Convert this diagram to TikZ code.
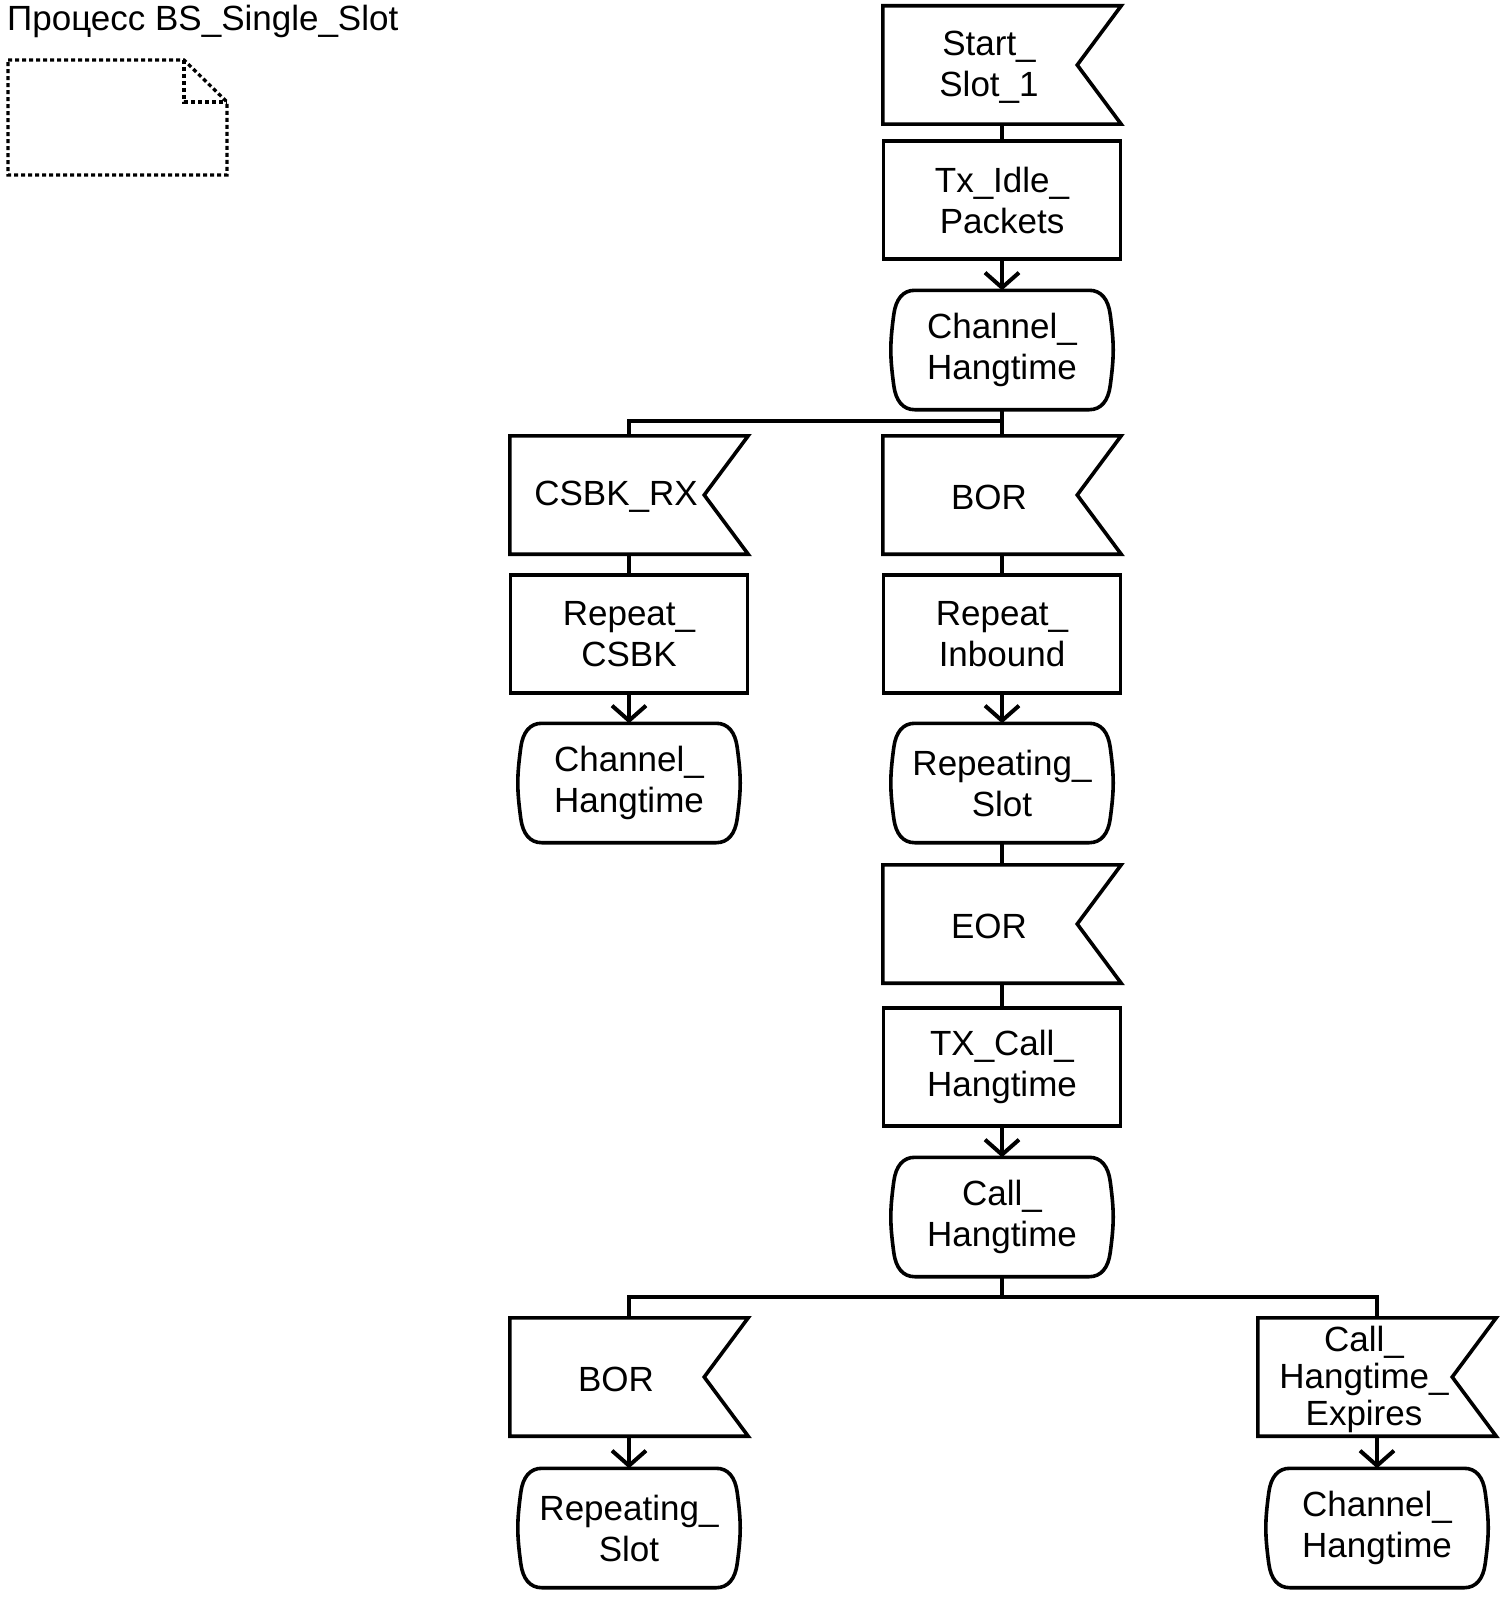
\documentclass[tikz,border=0pt]{standalone}
\usepackage{fontspec}
\setmainfont{Liberation Sans}
\usetikzlibrary{arrows.meta,calc}
\newcommand\drawflag[1]{\draw[lw, line join=miter] (#1.north west) -- (#1.north east) -- ([xshift=-44pt]#1.east) -- (#1.south east) -- (#1.south west) -- cycle;}
\newcommand\drawstate[1]{\draw[lw]
 ([xshift=24pt]#1.north west) -- ([xshift=-24pt]#1.north east)
 .. controls ([xshift=-12pt]#1.north east) and ([xshift=-5pt,yshift=-9pt]#1.north east) .. ([xshift=-3pt,yshift=-24pt]#1.north east)
 .. controls ([xshift=1pt,yshift=-54pt]#1.north east) and ([xshift=1pt,yshift=54pt]#1.south east) .. ([xshift=-3pt,yshift=24pt]#1.south east)
 .. controls ([xshift=-5pt,yshift=9pt]#1.south east) and ([xshift=-12pt]#1.south east) .. ([xshift=-24pt]#1.south east)
 -- ([xshift=24pt]#1.south west)
 .. controls ([xshift=12pt]#1.south west) and ([xshift=5pt,yshift=9pt]#1.south west) .. ([xshift=3pt,yshift=24pt]#1.south west)
 .. controls ([xshift=-1pt,yshift=54pt]#1.south west) and ([xshift=-1pt,yshift=-54pt]#1.north west) .. ([xshift=3pt,yshift=-24pt]#1.north west)
 .. controls ([xshift=5pt,yshift=-9pt]#1.north west) and ([xshift=12pt]#1.north west) .. ([xshift=24pt]#1.north west) -- cycle;}
\begin{document}
\begin{tikzpicture}[x=1pt,y=-1pt,
  every node/.style={font=\fontsize{35}{41}\selectfont},
  lw/.style={line width=3.6pt},
  flagbox/.style={minimum width=238pt, minimum height=118pt, inner sep=0pt},
  flagtxt/.style={align=center, xshift=-13pt, yshift=-2pt},
  taskbox/.style={draw, lw, minimum width=237pt, minimum height=118pt, inner sep=0pt, align=center},
  statebox/.style={minimum width=222pt, minimum height=119pt, inner sep=0pt, align=center},
  conn/.style={lw},
  arr/.style={lw, -{Straight Barb[length=15pt,width=34pt,line width=4pt]}},
  notebox/.style={line width=3.3pt, dash pattern=on 4pt off 3pt}
]
\useasboundingbox (0,0) rectangle (1506,1597);

% title and note
\node[anchor=base west, inner sep=0pt] (title) at (7,30.5) {Процесс BS\_Single\_Slot};
\draw[notebox] (8,60) -- (184,60) -- (227,102) -- (227,175) -- (8,175) -- cycle;
\draw[notebox] (184,60) -- (184,102) -- (227,102);

% nodes
\node[flagbox, label={[flagtxt]center:{Start\_\\Slot\_1}}] (f1) at (1002,65) {};
\node[taskbox] (b1) at (1002,200) {Tx\_Idle\_\\Packets};
\node[statebox] (s1) at (1002,350) {Channel\_\\Hangtime};
\node[flagbox, label={[flagtxt]center:{CSBK\_RX}}] (f2) at (629,495) {};
\node[flagbox, label={[flagtxt]center:{BOR}}] (f3) at (1002,495) {};
\node[taskbox] (b2) at (629,634) {Repeat\_\\CSBK};
\node[taskbox] (b3) at (1002,634) {Repeat\_\\Inbound};
\node[statebox] (s2) at (629,783) {Channel\_\\Hangtime};
\node[statebox] (s3) at (1002,783) {Repeating\_\\Slot};
\node[flagbox, label={[flagtxt]center:{EOR}}] (f4) at (1002,924) {};
\node[taskbox] (b4) at (1002,1067) {TX\_Call\_\\Hangtime};
\node[statebox] (s4) at (1002,1217) {Call\_\\Hangtime};
\node[flagbox, label={[flagtxt]center:{BOR}}] (f5) at (629,1377) {};
\node[flagbox, label={[flagtxt, font=\fontsize{35}{37}\selectfont]center:{Call\_\\Hangtime\_\\Expires}}] (f6) at (1377,1377) {};
\node[statebox] (s5) at (629,1528) {Repeating\_\\Slot};
\node[statebox] (s6) at (1377,1528) {Channel\_\\Hangtime};

\foreach \n in {f1,f2,f3,f4,f5,f6} {\drawflag{\n}}
\foreach \n in {s1,s2,s3,s4,s5,s6} {\drawstate{\n}}

\coordinate (j1) at (1002,421);
\coordinate (j2) at (1002,1297);

% connectors
\draw[conn] (f1.south) -- (b1.north);
\draw[arr] (b1.south) -- (s1.north);
\draw[conn] (s1.south) -- (f3.north);
\draw[conn] (j1) -| (f2.north);
\draw[conn] (f2.south) -- (b2.north);
\draw[conn] (f3.south) -- (b3.north);
\draw[arr] (b2.south) -- (s2.north);
\draw[arr] (b3.south) -- (s3.north);
\draw[conn] (s3.south) -- (f4.north);
\draw[conn] (f4.south) -- (b4.north);
\draw[arr] (b4.south) -- (s4.north);
\draw[conn] (s4.south) -- (j2);
\draw[conn] (f5.north) |- (j2) -| (f6.north);
\draw[arr] (f5.south) -- (s5.north);
\draw[arr] (f6.south) -- (s6.north);
\end{tikzpicture}
\end{document}
